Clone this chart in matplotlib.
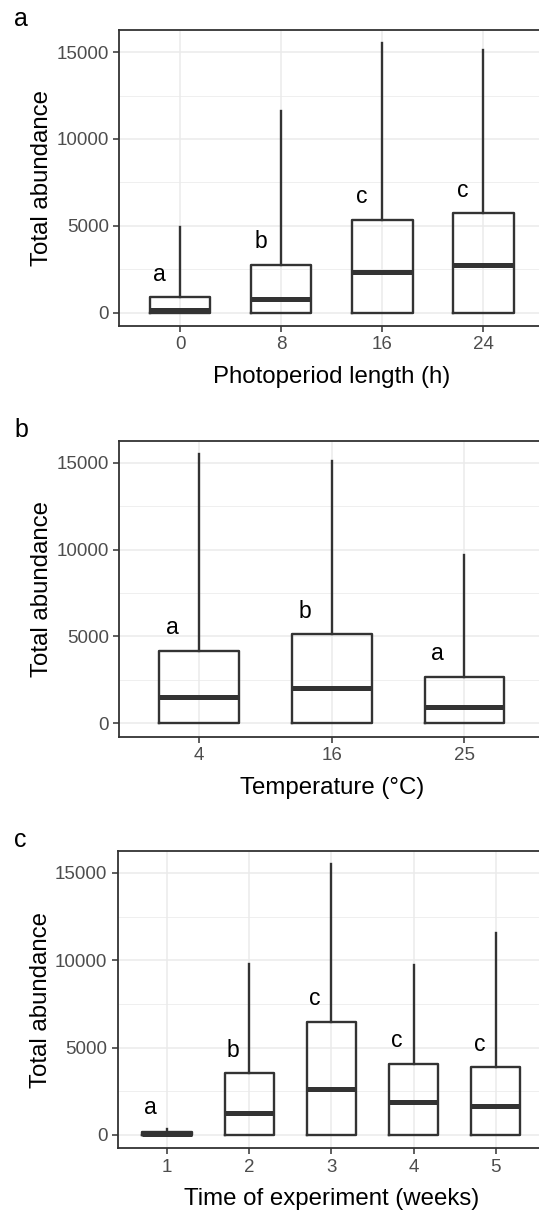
import matplotlib
matplotlib.use('Agg')
import matplotlib.pyplot as plt
from matplotlib.ticker import MultipleLocator

plt.rcParams['font.family'] = ['Liberation Sans', 'DejaVu Sans']

# panel a: photoperiod
photo_labels = ['0', '8', '16', '24']
photo_med = [130, 790, 2360, 2720]
photo_q3 = [885, 2740, 5330, 5750]
photo_top = [4910, 11590, 15500, 15120]
photo_sig = ['a', 'b', 'c', 'c']
photo_sig_y = [1840, 3700, 6290, 6670]

# panel b: temperature
temp_labels = ['4', '16', '25']
temp_med = [1530, 2050, 920]
temp_q3 = [4170, 5130, 2645]
temp_top = [15500, 15120, 9710]
temp_sig = ['a', 'b', 'a']
temp_sig_y = [5130, 6090, 3640]

# panel c: weeks
week_labels = ['1', '2', '3', '4', '5']
week_med = [60, 1240, 2600, 1870, 1620]
week_q3 = [170, 3530, 6480, 4030, 3860]
week_top = [330, 9800, 15500, 9710, 11560]
week_sig = ['a', 'b', 'c', 'c', 'c']
week_sig_y = [1170, 4480, 7460, 5010, 4820]

dark = '#333333'
W, H = 539, 1215


def draw_panel(ax, labels, med, q3, top, sig, sig_y, xlabel):
    stats = []
    for m, q, t in zip(med, q3, top):
        stats.append(dict(med=m, q1=0, q3=q, whislo=0, whishi=t))
    pos = list(range(1, len(labels) + 1))
    ax.bxp(stats, positions=pos, widths=0.6, showcaps=False, showfliers=False,
           boxprops=dict(color=dark, linewidth=1.7),
           whiskerprops=dict(color=dark, linewidth=1.7),
           medianprops=dict(color=dark, linewidth=3.6, solid_capstyle='butt'),
           zorder=3)
    for p, s, y in zip(pos, sig, sig_y):
        ax.text(p - 0.2, y, s, ha='center', va='baseline', fontsize=16.5, color='black')
    ymax = max(top)
    ax.set_ylim(-0.05 * ymax, 1.05 * ymax)
    ax.set_xlim(0.4, len(labels) + 0.6)
    ax.set_xticks(pos)
    ax.set_xticklabels(labels)
    ax.yaxis.set_major_locator(MultipleLocator(5000))
    ax.yaxis.set_minor_locator(MultipleLocator(2500))
    ax.grid(which='major', color='#EBEBEB', linewidth=1.1, zorder=0)
    ax.grid(which='minor', axis='y', color='#EBEBEB', linewidth=0.55, zorder=0)
    ax.set_axisbelow(True)
    ax.tick_params(which='major', length=4, width=1.1, color=dark, labelcolor='#4D4D4D',
                   labelsize=13.5, pad=3.5)
    ax.tick_params(which='minor', length=0)
    for sp in ax.spines.values():
        sp.set_color(dark)
        sp.set_linewidth(1.3)
    ax.set_ylabel('Total abundance', fontsize=17.3, labelpad=2.5)
    ax.set_xlabel(xlabel, fontsize=17.3, labelpad=9)


fig = plt.figure(figsize=(W / 100, H / 100), dpi=100)

# axes boxes in pixels: left, top, right, bottom
boxes = [(119.4, 30, 544, 326), (119.4, 440.7, 544, 736.7), (117.8, 850.7, 545, 1148.3)]
axes = []
for l, t, r, b in boxes:
    axes.append(fig.add_axes([l / W, 1 - b / H, (r - l) / W, (b - t) / H]))

draw_panel(axes[0], photo_labels, photo_med, photo_q3, photo_top, photo_sig, photo_sig_y,
           'Photoperiod length (h)')
draw_panel(axes[1], temp_labels, temp_med, temp_q3, temp_top, temp_sig, temp_sig_y,
           'Temperature (°C)')
draw_panel(axes[2], week_labels, week_med, week_q3, week_top, week_sig, week_sig_y,
           'Time of experiment (weeks)')

for tag, (l, t, r, b) in zip(['a', 'b', 'c'], boxes):
    fig.text(14 / W, 1 - (t - 3.5) / H, tag, fontsize=18, va='baseline', ha='left')

fig.savefig('out.png', dpi=100)
